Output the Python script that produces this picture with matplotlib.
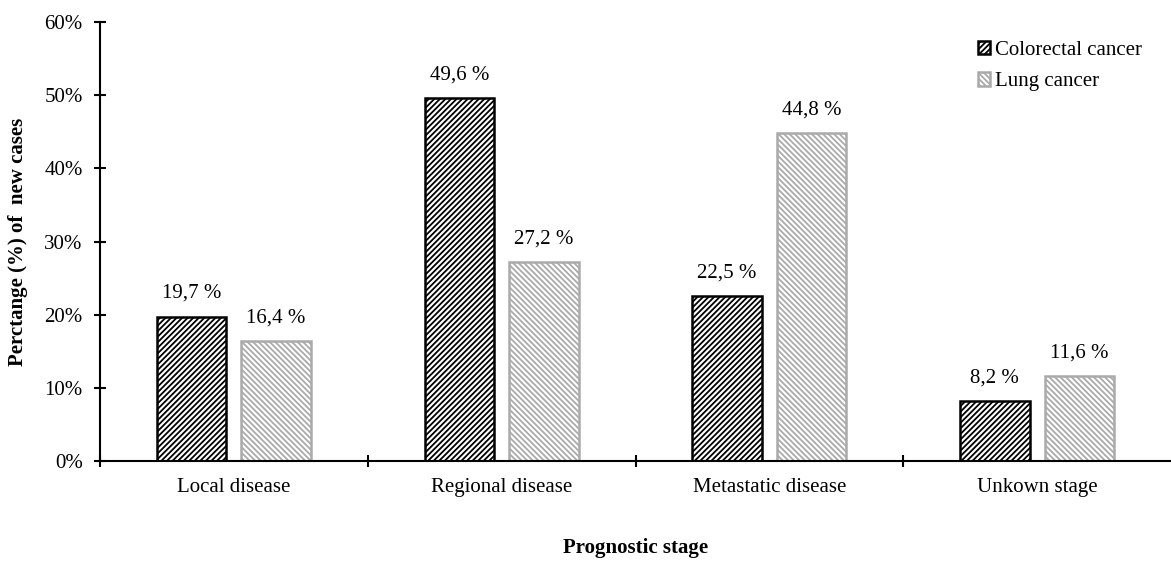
import numpy as np
import matplotlib.pyplot as plt

plt.rcParams['font.family'] = 'Liberation Serif'
plt.rcParams['font.size'] = 15
plt.rcParams['hatch.linewidth'] = 1.3

stages = ['Local disease', 'Regional disease', 'Metastatic disease', 'Unkown stage']
colorectal = [19.7, 49.6, 22.5, 8.2]
lung = [16.4, 27.2, 44.8, 11.6]

grey = '#aaaaaa'

fig = plt.figure(figsize=(11.71, 5.67), dpi=100)
ax = fig.add_axes([0.0854, 0.187, 0.9146, 0.774])

centres = np.arange(len(stages)) + 0.5
width = 0.26
gap = 0.056

b1 = ax.bar(centres - (width + gap) / 2, colorectal, width, facecolor='white',
            edgecolor='black', linewidth=1.8, hatch='//////', label='Colorectal cancer')
b2 = ax.bar(centres + (width + gap) / 2, lung, width, facecolor='white',
            edgecolor=grey, linewidth=1.8, hatch='\\\\\\\\\\\\', label='Lung cancer')

for bars, vals in ((b1, colorectal), (b2, lung)):
    for rect, v in zip(bars, vals):
        ax.annotate(('%.1f %%' % v).replace('.', ','),
                    (rect.get_x() + rect.get_width() / 2, v),
                    xytext=(0, 10), textcoords='offset points',
                    ha='center', va='bottom')

ax.set_xlim(0, 4)
ax.set_ylim(0, 60)
ax.set_yticks(np.arange(0, 61, 10))
ax.set_yticklabels(['%d%%' % t for t in range(0, 61, 10)])
ax.set_xticks([0, 1, 2, 3])
ax.set_xticklabels([])
ax.set_xticks(centres, minor=True)
ax.set_xticklabels(stages, minor=True)
ax.tick_params(axis='x', which='minor', length=0, pad=12)
ax.tick_params(axis='both', which='major', direction='inout', length=9, width=1.5)
ax.tick_params(axis='y', pad=8)

for s in ('top', 'right'):
    ax.spines[s].set_visible(False)
for s in ('left', 'bottom'):
    ax.spines[s].set_linewidth(1.5)

ax.set_ylabel('Perctange (%) of  new cases', fontweight='bold', labelpad=12)
ax.set_xlabel('Prognostic stage', fontweight='bold', labelpad=30)

ax.legend(loc='upper right', bbox_to_anchor=(0.99, 1.0), frameon=False,
          handlelength=0.6, handleheight=0.6, handletextpad=0.2, labelspacing=0.6)

fig.savefig('out.png', dpi=100)
